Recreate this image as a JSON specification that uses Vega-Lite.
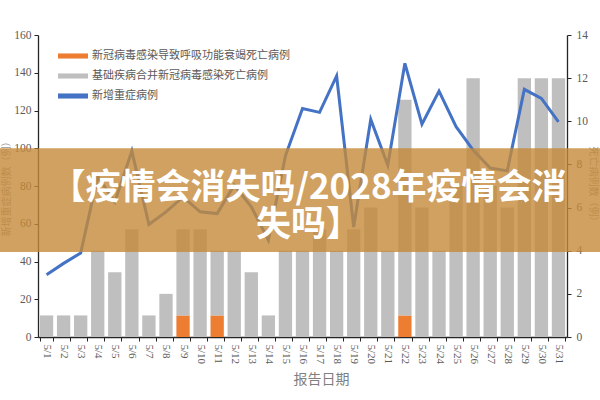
{
  "$schema": "https://vega.github.io/schema/vega-lite/v6.json",
  "width": 529,
  "height": 302,
  "autosize": "none",
  "padding": {"left": 38, "top": 35, "right": 33, "bottom": 63},
  "background": "white",
  "datasets": {
    "deaths": [
      {"date": "5/1", "type": "基础疾病合并新冠病毒感染死亡病例", "value": 1},
      {"date": "5/2", "type": "基础疾病合并新冠病毒感染死亡病例", "value": 1},
      {"date": "5/3", "type": "基础疾病合并新冠病毒感染死亡病例", "value": 1},
      {"date": "5/4", "type": "基础疾病合并新冠病毒感染死亡病例", "value": 4},
      {"date": "5/5", "type": "基础疾病合并新冠病毒感染死亡病例", "value": 3},
      {"date": "5/6", "type": "基础疾病合并新冠病毒感染死亡病例", "value": 5},
      {"date": "5/7", "type": "基础疾病合并新冠病毒感染死亡病例", "value": 1},
      {"date": "5/8", "type": "基础疾病合并新冠病毒感染死亡病例", "value": 2},
      {"date": "5/9", "type": "新冠病毒感染导致呼吸功能衰竭死亡病例", "value": 1},
      {"date": "5/9", "type": "基础疾病合并新冠病毒感染死亡病例", "value": 4},
      {"date": "5/10", "type": "基础疾病合并新冠病毒感染死亡病例", "value": 5},
      {"date": "5/11", "type": "新冠病毒感染导致呼吸功能衰竭死亡病例", "value": 1},
      {"date": "5/11", "type": "基础疾病合并新冠病毒感染死亡病例", "value": 3},
      {"date": "5/12", "type": "基础疾病合并新冠病毒感染死亡病例", "value": 4},
      {"date": "5/13", "type": "基础疾病合并新冠病毒感染死亡病例", "value": 3},
      {"date": "5/14", "type": "基础疾病合并新冠病毒感染死亡病例", "value": 1},
      {"date": "5/15", "type": "基础疾病合并新冠病毒感染死亡病例", "value": 4},
      {"date": "5/16", "type": "基础疾病合并新冠病毒感染死亡病例", "value": 4},
      {"date": "5/17", "type": "基础疾病合并新冠病毒感染死亡病例", "value": 5},
      {"date": "5/18", "type": "基础疾病合并新冠病毒感染死亡病例", "value": 4},
      {"date": "5/19", "type": "基础疾病合并新冠病毒感染死亡病例", "value": 5},
      {"date": "5/20", "type": "基础疾病合并新冠病毒感染死亡病例", "value": 6},
      {"date": "5/21", "type": "基础疾病合并新冠病毒感染死亡病例", "value": 4},
      {"date": "5/22", "type": "新冠病毒感染导致呼吸功能衰竭死亡病例", "value": 1},
      {"date": "5/22", "type": "基础疾病合并新冠病毒感染死亡病例", "value": 10},
      {"date": "5/23", "type": "基础疾病合并新冠病毒感染死亡病例", "value": 6},
      {"date": "5/24", "type": "基础疾病合并新冠病毒感染死亡病例", "value": 4},
      {"date": "5/25", "type": "基础疾病合并新冠病毒感染死亡病例", "value": 7},
      {"date": "5/26", "type": "基础疾病合并新冠病毒感染死亡病例", "value": 12},
      {"date": "5/27", "type": "基础疾病合并新冠病毒感染死亡病例", "value": 7},
      {"date": "5/28", "type": "基础疾病合并新冠病毒感染死亡病例", "value": 6},
      {"date": "5/29", "type": "基础疾病合并新冠病毒感染死亡病例", "value": 12},
      {"date": "5/30", "type": "基础疾病合并新冠病毒感染死亡病例", "value": 12},
      {"date": "5/31", "type": "基础疾病合并新冠病毒感染死亡病例", "value": 12}
    ],
    "severe": [
      {"date": "5/1", "cases": 33},
      {"date": "5/2", "cases": 39},
      {"date": "5/3", "cases": 44.5},
      {"date": "5/4", "cases": 85},
      {"date": "5/5", "cases": 71.6},
      {"date": "5/6", "cases": 98.5},
      {"date": "5/7", "cases": 59.6},
      {"date": "5/8", "cases": 66.3},
      {"date": "5/9", "cases": 74.2},
      {"date": "5/10", "cases": 66.3},
      {"date": "5/11", "cases": 65.4},
      {"date": "5/12", "cases": 80.4},
      {"date": "5/13", "cases": 69},
      {"date": "5/14", "cases": 51.3},
      {"date": "5/15", "cases": 96},
      {"date": "5/16", "cases": 121},
      {"date": "5/17", "cases": 119},
      {"date": "5/18", "cases": 138.3},
      {"date": "5/19", "cases": 58.3},
      {"date": "5/20", "cases": 115.3},
      {"date": "5/21", "cases": 91},
      {"date": "5/22", "cases": 145},
      {"date": "5/23", "cases": 112.8},
      {"date": "5/24", "cases": 130.3},
      {"date": "5/25", "cases": 111.4},
      {"date": "5/26", "cases": 99},
      {"date": "5/27", "cases": 89.5},
      {"date": "5/28", "cases": 88},
      {"date": "5/29", "cases": 131.2},
      {"date": "5/30", "cases": 126.4},
      {"date": "5/31", "cases": 114}
    ]
  },
  "config": {
    "view": {"stroke": null},
    "axis": {
      "grid": false,
      "labelFont": "Liberation Serif",
      "labelFontSize": 11.5,
      "labelColor": "#595959",
      "titleFont": "Noto Sans CJK SC",
      "titleColor": "#9a9a9a",
      "titleFontWeight": "normal",
      "titleFontSize": 10,
      "domainColor": "#262626",
      "tickColor": "#262626",
      "tickSize": 4,
      "domainWidth": 1.3
    },
    "legend": {
      "labelFont": "Noto Sans CJK SC",
      "labelFontSize": 11,
      "labelColor": "#595959",
      "labelLimit": 0
    }
  },
  "layer": [
    {
      "data": {"name": "deaths"},
      "mark": {"type": "bar"},
      "encoding": {
        "x": {
          "field": "date",
          "type": "ordinal",
          "sort": null,
          "scale": {
            "domain": ["5/1","5/2","5/3","5/4","5/5","5/6","5/7","5/8","5/9","5/10","5/11","5/12","5/13","5/14","5/15","5/16","5/17","5/18","5/19","5/20","5/21","5/22","5/23","5/24","5/25","5/26","5/27","5/28","5/29","5/30","5/31"],
            "paddingInner": 0.22,
            "paddingOuter": 0.11
          },
          "axis": {
            "title": "报告日期",
            "titleFontSize": 14,
            "titleColor": "#7f7f7f",
            "titleX": 283,
            "titlePadding": 9,
            "labelAngle": 90,
            "labelFontSize": 11,
            "labelPadding": 3,
            "tickBand": "extent"
          }
        },
        "y": {
          "field": "value",
          "type": "quantitative",
          "stack": "zero",
          "scale": {"domain": [0, 14]},
          "axis": {
            "orient": "right",
            "values": [0, 2, 4, 6, 8, 10, 12, 14],
            "title": "死亡病例数（例）",
            "labelPadding": 5,
            "titlePadding": 0
          }
        },
        "color": {
          "field": "type",
          "type": "nominal",
          "scale": {
            "domain": ["新冠病毒感染导致呼吸功能衰竭死亡病例", "基础疾病合并新冠病毒感染死亡病例", "新增重症病例"],
            "range": ["#ED7D31", "#BFBFBF", "#4472C4"]
          },
          "legend": {
            "title": null,
            "orient": "none",
            "legendX": 20,
            "legendY": 6,
            "symbolType": "M-1,-0.17H1V0.17H-1Z",
            "symbolSize": 900,
            "symbolStrokeWidth": 0,
            "labelOffset": 4,
            "rowPadding": 0,
            "encode": {
              "symbols": {
                "update": {
                  "fill": {"scale": "color", "field": "value"},
                  "fillOpacity": {"value": 1},
                  "strokeWidth": {"value": 0}
                }
              }
            }
          }
        },
        "order": {"field": "type", "sort": "descending"}
      }
    },
    {
      "data": {"name": "severe"},
      "mark": {"type": "line", "strokeWidth": 3},
      "encoding": {
        "x": {"field": "date", "type": "ordinal", "sort": null},
        "y": {
          "field": "cases",
          "type": "quantitative",
          "scale": {"domain": [0, 160]},
          "axis": {
            "orient": "left",
            "values": [0, 20, 40, 60, 80, 100, 120, 140, 160],
            "title": "新增重症病例数（例）",
            "labelPadding": 3,
            "titlePadding": 2
          }
        },
        "color": {"datum": "新增重症病例"}
      }
    },
    {
      "data": {"values": [{}]},
      "mark": {"type": "rect", "x": -38, "x2": 562, "fill": "#C4893A", "opacity": 0.8},
      "encoding": {
        "y": {"datum": 100, "type": "quantitative", "scale": {"domain": [0, 160]}, "axis": null},
        "y2": {"datum": 45}
      }
    },
    {
      "data": {"values": [{}]},
      "mark": {
        "type": "text",
        "text": ["【疫情会消失吗/2028年疫情会消", "失吗】"],
        "font": "Noto Sans CJK SC",
        "fontWeight": "bold",
        "fontSize": 35,
        "lineHeight": 37,
        "fill": "white",
        "align": "center",
        "baseline": "middle",
        "dx": 6
      },
      "encoding": {
        "x": {"datum": "5/16", "type": "ordinal"},
        "y": {"datum": 79, "type": "quantitative", "scale": {"domain": [0, 160]}, "axis": null}
      }
    }
  ],
  "resolve": {"scale": {"y": "independent"}}
}
